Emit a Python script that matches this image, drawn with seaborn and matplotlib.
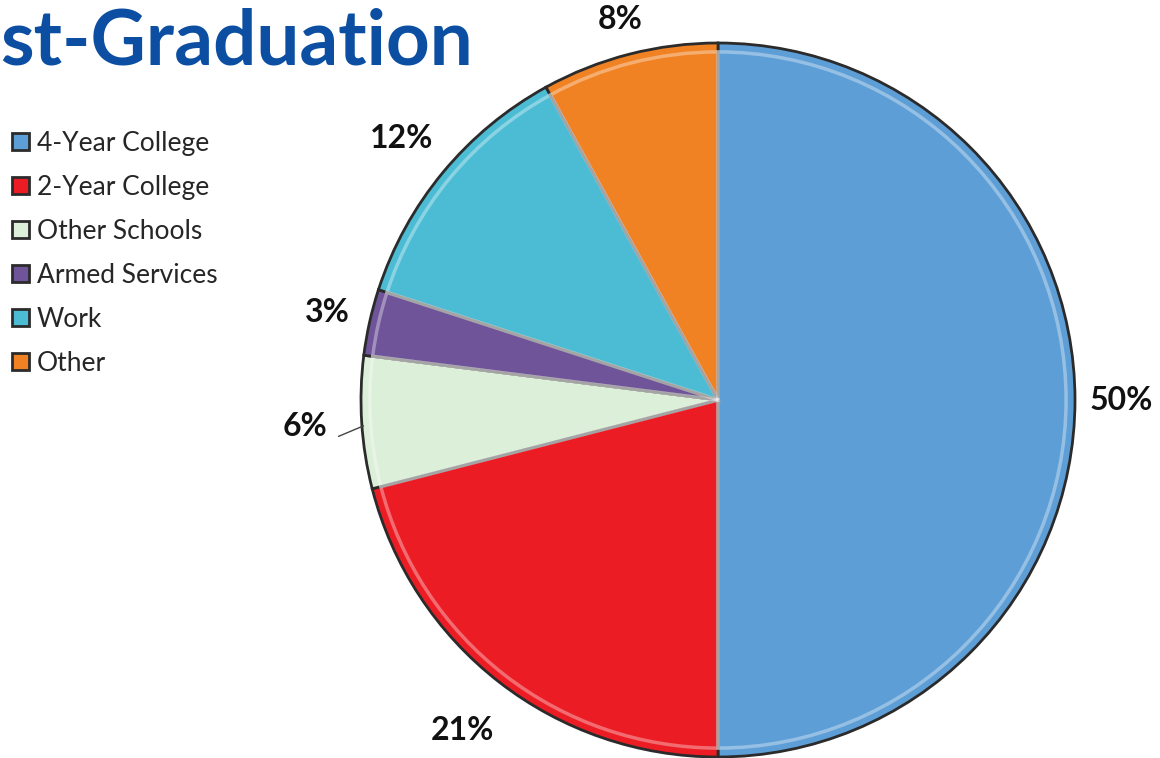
import matplotlib
matplotlib.use("Agg")
import matplotlib.pyplot as plt
import seaborn as sns
import numpy as np

# Data
categories = ["4-Year College", "2-Year College", "Other Schools",
              "Armed Services", "Work", "Other"]
shares = [50, 21, 6, 3, 12, 8]
colors = ["#5E9ED6", "#EC1C24", "#DCEFD8", "#6F5499", "#4BBCD4", "#F08224"]
label_dist = [1.13, 1.17, 1.16, 1.12, 1.15, 1.10]
title_text = "st-Graduation"

sns.set_theme(style="white")
plt.rcParams['font.family'] = ['Lato', 'DejaVu Sans']

fig = plt.figure(figsize=(11.6, 7.58), dpi=100)
W, H = 1160, 758
cx, cy, r = 718, 400, 357
ax = fig.add_axes([(cx - r) / W, (H - cy - r) / H, 2 * r / W, 2 * r / H])

wedges, _ = ax.pie(
    shares, colors=colors, startangle=90, counterclock=False,
    wedgeprops=dict(edgecolor="#2b2b2b", linewidth=2),
)
# soft inner highlight to hint at the bevelled look
ax.pie(shares, colors=["none"] * len(shares), startangle=90, counterclock=False,
       radius=0.975,
       wedgeprops=dict(edgecolor="white", linewidth=2.5, alpha=0.35))
ax.set_xlim(-1, 1)
ax.set_ylim(-1, 1)
ax.axis("off")

# percentage labels placed along each slice's middle angle
for w, s, d in zip(wedges, shares, label_dist):
    ang = np.deg2rad((w.theta1 + w.theta2) / 2)
    ax.text(d * np.cos(ang), d * np.sin(ang), f"{s}%", ha="center",
            va="center", fontsize=23, fontweight="bold", color="#111111")

# leader line for the small "Other Schools" slice
w = wedges[2]
ang = np.deg2rad((w.theta1 + w.theta2) / 2)
ax.plot([0.995 * np.cos(ang), 1.065 * np.cos(ang)],
        [0.995 * np.sin(ang) - 0.01, 1.065 * np.sin(ang) - 0.035],
        color="#444444", lw=1, clip_on=False)

fig.text(0.0, 0.99, title_text, ha="left", va="top", fontsize=55,
         fontweight="bold", color="#0B4EA2")

fig.legend(wedges, categories, loc="upper left",
           bbox_to_anchor=(-0.006, 0.852), frameon=False,
           fontsize=19, handlelength=0.65, handleheight=0.65,
           handletextpad=0.3, labelspacing=0.72, borderpad=0.2)

fig.savefig("out.png", dpi=100)
